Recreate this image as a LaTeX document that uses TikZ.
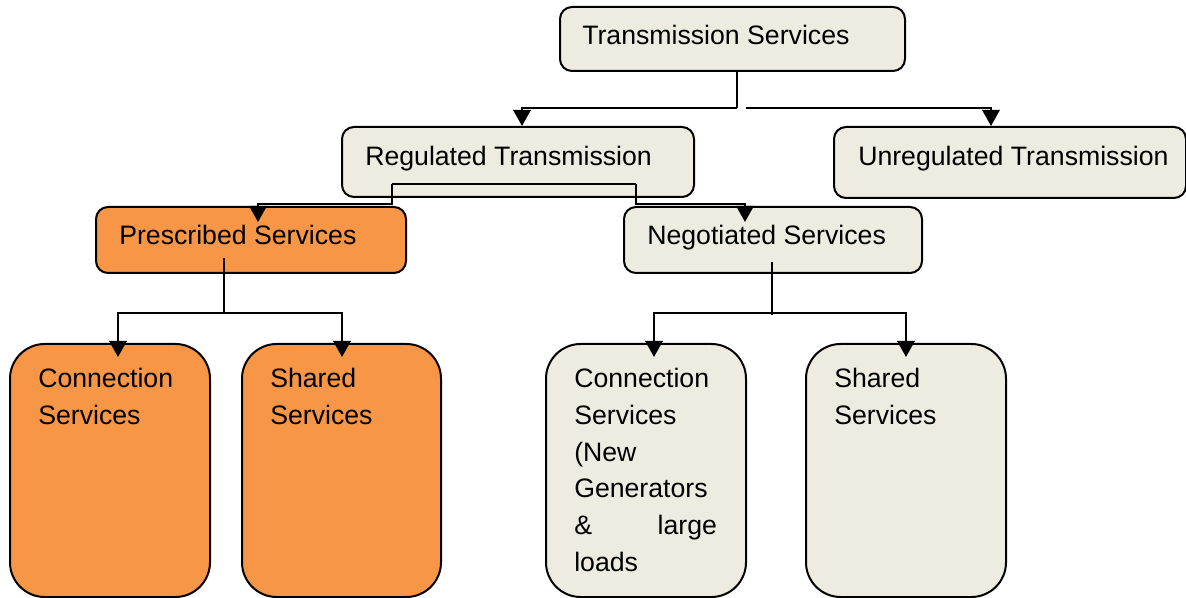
\documentclass[tikz,border=0pt]{standalone}
\usepackage{fontspec}
\setmainfont{Liberation Sans}
\usetikzlibrary{arrows.meta,calc,fit}
\definecolor{beige}{HTML}{EEECE1}
\definecolor{orangefill}{HTML}{F79646}
\tikzset{
  box/.style={draw=black, line width=1.5pt, fill=beige, rounded corners=9pt, inner sep=0pt, outer sep=0pt},
  tallbox/.style={box, rounded corners=26pt},
  hot/.style={fill=orangefill},
  lbl/.style={inner sep=0pt, anchor=base west, font=\fontsize{20pt}{27.6pt}\selectfont},
  blocktext/.style={inner sep=0pt, anchor=north west, align=left, font=\fontsize{20pt}{27.6pt}\selectfont},
  conn/.style={draw=black, line width=1.7pt},
  tip/.style={-{Triangle[width=13pt,length=12pt]}}
}
\begin{document}
\begin{tikzpicture}[x=0.75pt,y=-0.75pt]
\useasboundingbox (0,0) rectangle (1186,598);

% boxes
\node[box, fit={(560,7)(905,71)}] (ts) {};
\node[box, fit={(342,127)(694,197)}] (rt) {};
\node[box, fit={(834,127)(1186,198)}] (ut) {};
\node[box, hot, fit={(96,207)(406,273)}] (ps) {};
\node[box, fit={(624,207)(922,273)}] (ns) {};
\node[tallbox, hot, fit={(10,344)(210,597)}] (pc) {};
\node[tallbox, hot, fit={(242,344)(441,597)}] (psh) {};
\node[tallbox, fit={(546,344)(746,597)}] (nc) {};
\node[tallbox, fit={(806,344)(1006,597)}] (nsh) {};

% labels
\node[lbl] (ts-t) at (582,45) {Transmission Services};
\node[lbl] (rt-t) at (365,166) {Regulated Transmission};
\node[lbl] (ut-t) at (858,166) {Unregulated Transmission};
\node[lbl] (ps-t) at (119,245) {Prescribed Services};
\node[lbl] (ns-t) at (647,245) {Negotiated Services};
\node[blocktext] (pc-t) at (38,368) {Connection\\Services};
\node[blocktext] (psh-t) at (270,368) {Shared\\Services};
\node[blocktext] (nc-t) at (574,368) {Connection\\Services\\(New\\Generators\\\hbox to 107pt{\&\hfill large}\\loads};
\node[blocktext] (nsh-t) at (834,368) {Shared\\Services};

% junction points
\coordinate (j1) at (737,108);
\coordinate (j2) at (746,108);
\coordinate (r1) at (392,184);
\coordinate (r2) at (636,184);
\coordinate (pj) at (224,313);
\coordinate (nj) at (772,313);

% top level
\draw[conn] (ts.south -| j1) -- (j1);
\draw[conn,tip] (j1) -| ($(rt.north west)+(180,-1)$);
\draw[conn,tip] (j2) -| ($(ut.north west)+(157,-1)$);

% regulated split
\draw[conn] (r1) -- (r2);
\draw[conn,tip] (r1) -- ++(0,20) -| ($(ps.north west)+(162,15)$);
\draw[conn,tip] (r2) -- ++(0,20) -| ($(ns.north west)+(121,15)$);

% prescribed split
\draw[conn] ($(ps.south -| pj)+(0,-15)$) -- (pj);
\draw[conn,tip] (pj) -| ($(pc.north west)+(108,13)$);
\draw[conn,tip] (pj) -| ($(psh.north west)+(100,13)$);

% negotiated split
\draw[conn] ($(ns.south -| nj)+(0,-11)$) -- ($(nj)+(0,2)$);
\draw[conn,tip] (nj) -| ($(nc.north west)+(108,13)$);
\draw[conn,tip] (nj) -| ($(nsh.north west)+(100,13)$);
\end{tikzpicture}
\end{document}
